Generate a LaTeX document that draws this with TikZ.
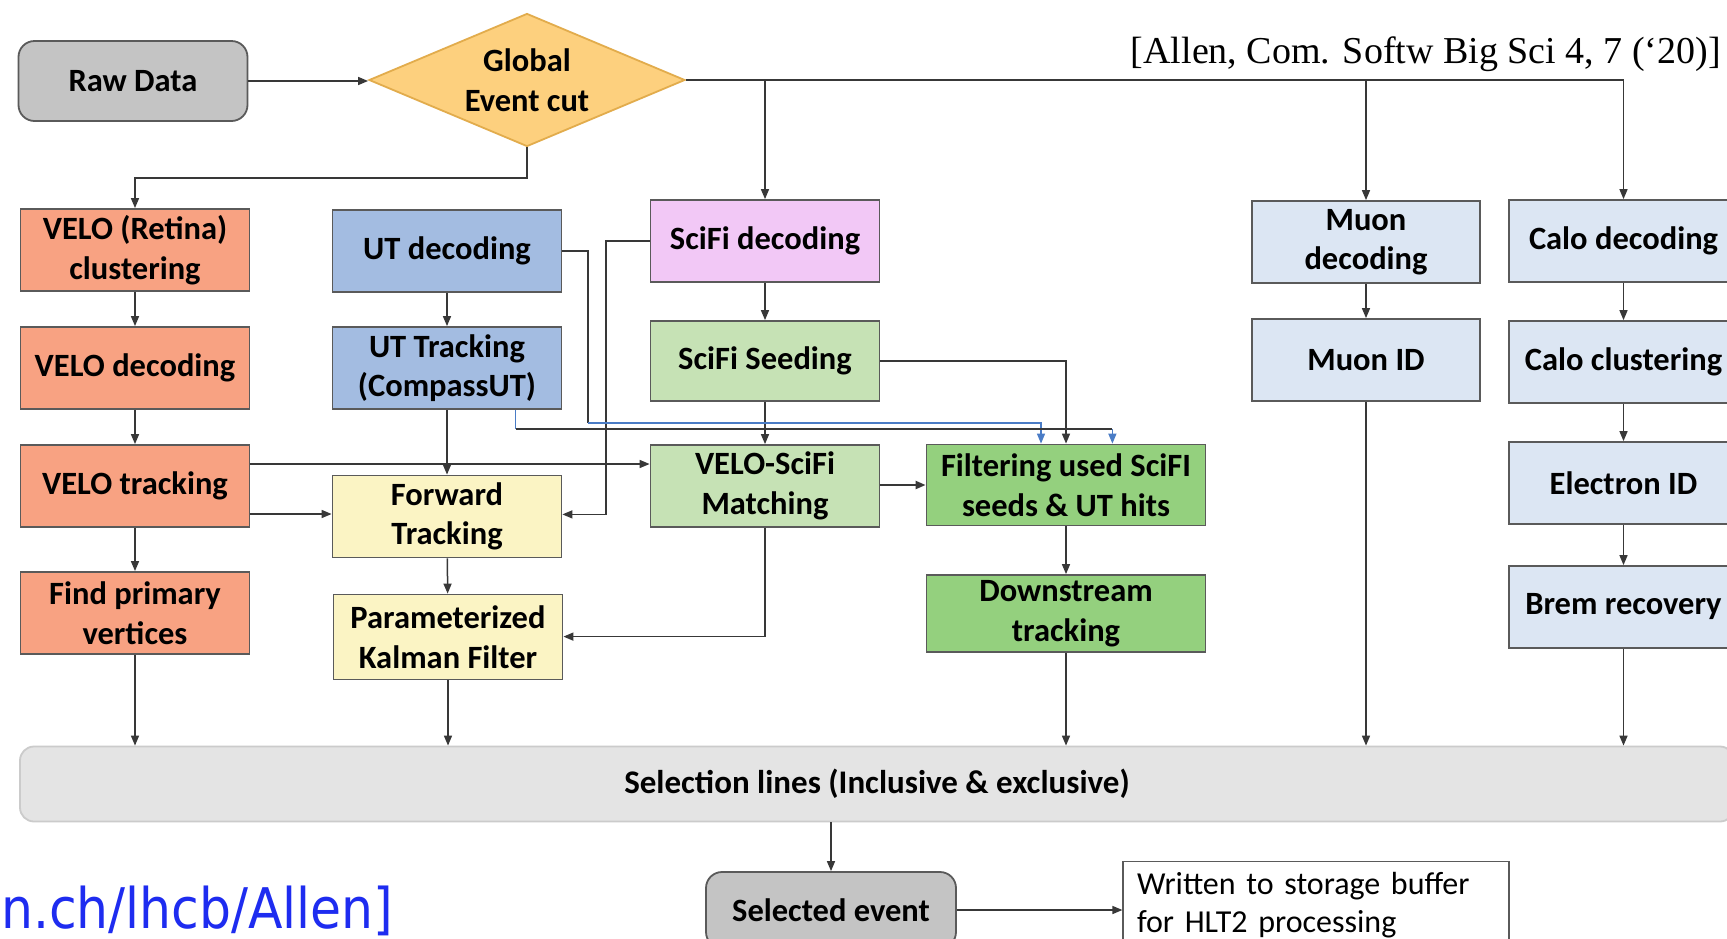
\documentclass[tikz,border=0pt]{standalone}
\usepackage{fontspec}
\newfontfamily\boxfont{Carlito}
\newfontfamily\urlfont{DejaVu Sans Condensed}
\newfontfamily\citefont{Liberation Serif}
\usetikzlibrary{arrows.meta,shapes.geometric}
\definecolor{lnc}{HTML}{383838}
\definecolor{bord}{HTML}{5A5A5A}
\definecolor{bluel}{HTML}{4A7CC6}
\definecolor{rawc}{HTML}{C4C4C4}
\definecolor{gecc}{HTML}{FDD07E}
\definecolor{gecb}{HTML}{E2AC4C}
\definecolor{veloc}{HTML}{F8A282}
\definecolor{utc}{HTML}{A3BCE1}
\definecolor{yelc}{HTML}{FBF4C4}
\definecolor{pinkc}{HTML}{F2C8F6}
\definecolor{lgreen}{HTML}{C6E2B5}
\definecolor{dgreen}{HTML}{94D07E}
\definecolor{lblue}{HTML}{DCE6F3}
\definecolor{selc}{HTML}{E4E4E4}
\definecolor{selb}{HTML}{CBCBCB}
\definecolor{urlc}{HTML}{1E2CF0}
\tikzset{
  boxtext/.style={font=\boxfont\bfseries\fontsize{32.5}{39.5}\selectfont},
  box/.style={draw=bord, line width=1.8pt, minimum width=229pt, minimum height=82pt,
    inner sep=0pt, align=center, boxtext},
  conn/.style={draw=lnc, line width=1.5pt, -{Triangle[length=10pt,width=8pt]}},
  plain/.style={draw=lnc, line width=1.5pt},
  bconn/.style={draw=bluel, line width=1.3pt, -{Triangle[length=10pt,width=8pt]}},
}
\begin{document}
\begin{tikzpicture}[x=1pt,y=-1pt]
\useasboundingbox (0,0) rectangle (1727,938);
\clip (0,0) rectangle (1727,938);
\fill[white] (0,0) rectangle (1727,938);

% top row
\node[box, fill=rawc, draw=bord, rounded corners=16pt, minimum height=80pt] (raw) at (133,81) {Raw Data};
\node[diamond, draw=gecb, fill=gecc, line width=1.8pt, inner sep=0pt, minimum width=316pt, minimum height=133pt] (gec) at (527,80) {};
\node[align=center, inner sep=0pt, boxtext] (gectext) at (gec.center) {Global\\Event cut};
\node[anchor=base east, inner sep=0pt, font=\citefont\fontsize{38}{44}\selectfont] (cite) at (1721,63)
  {[Allen, Com. Softw Big Sci 4, 7 (‘20)]};

% VELO column
\node[box, fill=veloc] (vret) at (135,250) {VELO (Retina)\\clustering};
\node[box, fill=veloc] (vdec) at (135,368) {VELO decoding};
\node[box, fill=veloc] (vtrk) at (135,486) {VELO tracking};
\node[box, fill=veloc] (fpv) at (135,613) {Find primary\\vertices};

% UT column
\node[box, fill=utc] (utdec) at (447,251) {UT decoding};
\node[box, fill=utc] (uttrk) at (447,368) {UT Tracking\\(CompassUT)};
\node[box, fill=yelc] (fwd) at (447,516.5) {Forward\\Tracking};
\node[box, fill=yelc, minimum height=85pt] (pkf) at (448,637) {Parameterized\\Kalman Filter};

% SciFi column
\node[box, fill=pinkc] (scidec) at (765,241) {SciFi decoding};
\node[box, fill=lgreen, minimum height=80pt] (sciseed) at (765,361) {SciFi Seeding};
\node[box, fill=lgreen] (match) at (765,486) {VELO-SciFi\\Matching};

% downstream column
\node[box, fill=dgreen, minimum width=279pt, minimum height=81pt] (filt) at (1066,485) {Filtering used SciFI\\seeds \& UT hits};
\node[box, fill=dgreen, minimum width=279pt, minimum height=77pt] (down) at (1066,613.5) {Downstream\\tracking};

% Muon column
\node[box, fill=lblue, minimum width=228pt] (muondec) at (1366,242) {Muon\\decoding};
\node[box, fill=lblue, minimum width=228pt] (muonid) at (1366,360) {Muon ID};

% Calo column
\node[box, fill=lblue] (calodec) at (1623.5,241) {Calo decoding};
\node[box, fill=lblue] (caloclus) at (1623.5,362) {Calo clustering};
\node[box, fill=lblue] (eid) at (1623.5,483) {Electron ID};
\node[box, fill=lblue] (brem) at (1623.5,607) {Brem recovery};

% bottom
\node[draw=selb, fill=selc, line width=1.8pt, rounded corners=14pt, minimum width=1714pt, minimum height=75pt,
  inner sep=0pt, font=\boxfont\bfseries\fontsize{33}{39}\selectfont] (sel) at (877,784) {Selection lines (Inclusive \& exclusive)};
\node[box, fill=rawc, rounded corners=16pt, minimum width=250pt, minimum height=76pt] (selev) at (831,910) {Selected event};
\node[draw=bord, line width=1.2pt, fill=white, minimum width=386pt, minimum height=87pt, text width=358pt,
  inner xsep=14pt, inner ysep=0pt, align=left, font=\boxfont\fontsize{32}{38.5}\selectfont] (written) at (1316,905)
  {Written to storage buffer\\for HLT2 processing};
\node[anchor=base west, inner sep=0pt, text=urlc, font=\urlfont\fontsize{56}{60}\selectfont] (url) at (1,928) {n.ch/lhcb/Allen]};

% connectors
\draw[conn] (raw.east) -- (raw.east -| gec.west);
\draw[conn] (gec.east) -| (calodec.north);
\draw[conn] (gec.east -| scidec.north) -- (scidec.north);
\draw[conn] (gec.east -| muondec.north) -- (muondec.north);
\coordinate (g1) at (527,178);
\draw[conn] (gec.south) -- (g1) -| (vret.north);

\draw[conn] (vret) -- (vdec);
\draw[conn] (vdec) -- (vtrk);
\draw[conn] (vtrk) -- (fpv);
\draw[conn] (utdec) -- (uttrk);
\draw[conn] (uttrk) -- (fwd);
\draw[conn] (fwd) -- (pkf);
\draw[conn] (scidec) -- (sciseed);
\draw[conn] (sciseed) -- (match);
\draw[conn] (filt) -- (down);
\draw[conn] (muondec) -- (muonid);
\draw[conn] (calodec) -- (caloclus);
\draw[conn] (caloclus) -- (eid);
\draw[conn] (eid) -- (brem);

\coordinate (a1) at ([yshift=22pt]vtrk.east);
\draw[conn] (a1) -- (a1 -| match.west);
\coordinate (a2) at ([yshift=-28pt]vtrk.east);
\draw[conn] (a2) -- (a2 -| fwd.west);

\coordinate (k1) at (606,514.4);
\draw[conn] (scidec.west) -- (scidec.west -| k1) -- (k1) -- (k1 -| fwd.east);

\coordinate (k2) at (588,423);
\coordinate (k3) at (1041,423);
\draw[plain] (utdec.east) -- (utdec.east -| k2) -- (k2);
\draw[bconn] (k2) -- (k3) -- (k3 |- filt.north);

\coordinate (k4) at (515.5,429);
\coordinate (k5) at (1112.4,429);
\draw[draw=bluel, line width=1.3pt] (k4 |- uttrk.south) -- (k4);
\draw[plain] (k4) -- (k5);
\draw[bconn] (k5) -- (k5 |- filt.north);

\coordinate (k6) at (1066,361);
\draw[conn] (sciseed.east |- k6) -- (k6) -- (filt.north);

\draw[conn, line width=2.2pt] (match.east |- filt.west) -- (filt.west);

\coordinate (k7) at (765,636.6);
\draw[conn] (match.south) -- (k7) -- (k7 -| pkf.east);

\draw[conn] (fpv.south) -- (fpv.south |- sel.north);
\draw[conn] (pkf.south) -- (pkf.south |- sel.north);
\draw[conn] (down.south) -- (down.south |- sel.north);
\draw[conn] (muonid.south) -- (muonid.south |- sel.north);
\draw[conn] (brem.south) -- (brem.south |- sel.north);

\draw[conn] (sel.south -| selev.north) -- (selev.north);
\draw[conn] (selev.east) -- (selev.east -| written.west);
\end{tikzpicture}
\end{document}
